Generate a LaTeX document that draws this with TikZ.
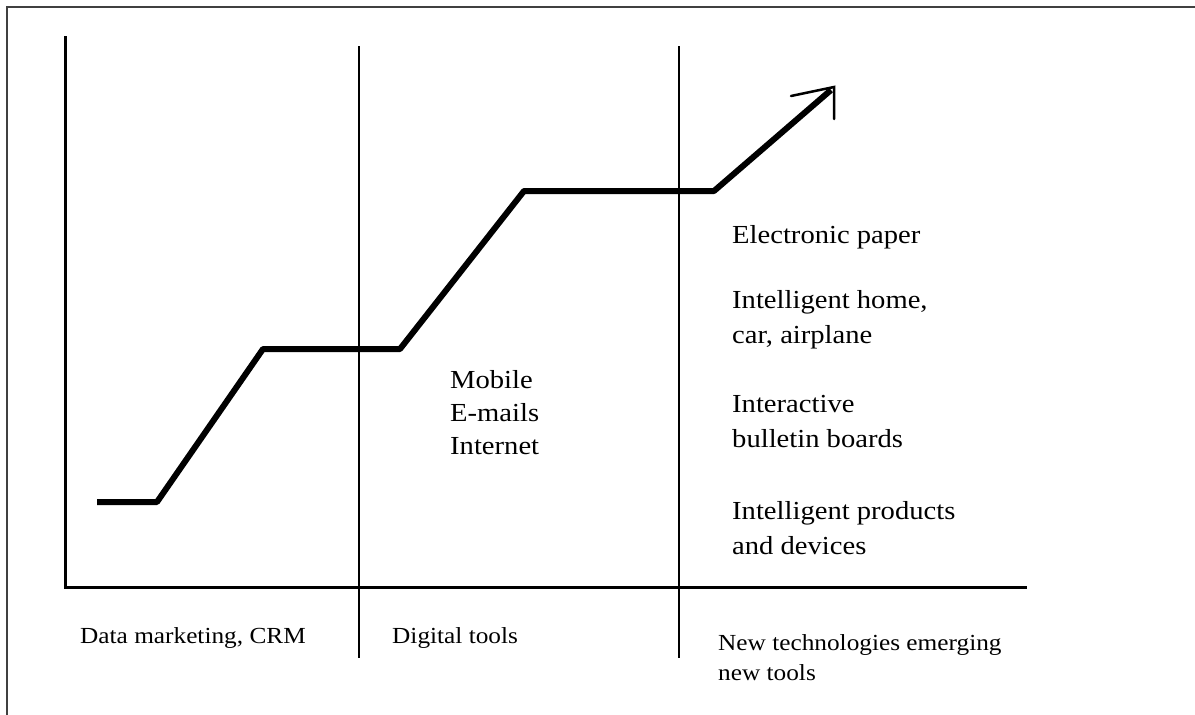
\documentclass[tikz,border=0pt]{standalone}
\usepackage{fontspec}
\setmainfont{Liberation Serif}[FakeStretch=1.1]
\usetikzlibrary{calc}

\begin{document}
\begin{tikzpicture}[x=1pt, y=-1pt,
	frame/.style={draw=black!75, line width=2.5pt},
	axis/.style={line width=3pt},
	divider/.style={line width=1.3pt},
	trend/.style={line width=6pt, line join=round},
	barb/.style={line width=2.5pt, line cap=round},
	txt/.style={anchor=west, align=left, inner sep=0pt, font=\fontsize{26}{35}\selectfont}
	]
	
	\useasboundingbox (0,0) rectangle (1195,715);
	\draw[frame] (7,715) -- (7,7) -- (1195,7);
	
	\coordinate (O) at (65,587);
	\coordinate (Ytop) at (65,36);
	\coordinate (Xend) at (1027,587);
	
	\draw[axis] (Ytop) -- (O) -- (Xend);
	
	% dividers
	\coordinate (D1) at (359,46);
	\coordinate (D2) at (679,46);
	\draw[divider] (D1) -- ($(D1) + (0,612)$);
	\draw[divider] (D2) -- ($(D2) + (0,612)$);
	
	% trend
	\coordinate (S0) at (97,502);
	\coordinate (S1) at (157,502);
	\coordinate (S2) at (263,349);
	\coordinate (S3) at (400,349);
	\coordinate (S4) at (524,191);
	\coordinate (S5) at (714,191);
	\coordinate (tip) at (834,87);
	\draw[trend] (S0) -- (S1) -- (S2) -- (S3) -- (S4) -- (S5) -- ($(tip) + (-3,3)$);
	\draw[barb] ($(tip) + (-43,9)$) -- (tip) -- ($(tip) + (0,32)$);
	
	% texts
	\node[txt, font=\fontsize{26}{33}\selectfont] (mobile) at (450,413) {Mobile\\E-mails\\Internet};
	
	\node[txt] (paper) at (732,237) {Electronic paper};
	\node[txt] (home) at (732,320) {Intelligent home,\\car, airplane};
	\node[txt] (board) at (732,422) {Interactive\\bulletin boards};
	\node[txt] (products) at (732,528) {Intelligent products\\and devices};
	
	\node[txt, font=\fontsize{23}{30}\selectfont] (dataMkt) at (80,638) {Data marketing, CRM};
	\node[txt, font=\fontsize{23}{30}\selectfont] (digital) at (392,638) {Digital tools};
	\node[txt, font=\fontsize{23}{30}\selectfont] (newTech) at (718,658) {New technologies emerging\\new tools};
\end{tikzpicture}
\end{document}
